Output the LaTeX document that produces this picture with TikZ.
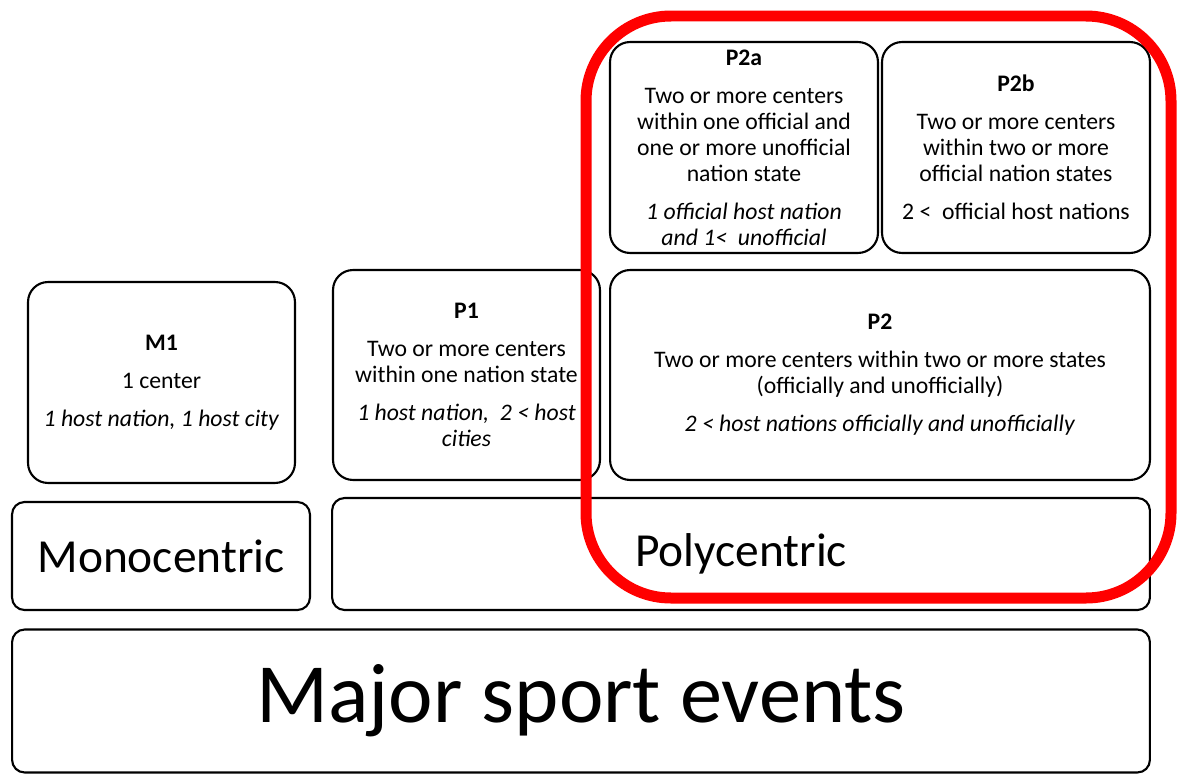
\documentclass[tikz,border=0pt]{standalone}
\usepackage{fontspec}
\setmainfont{Carlito}
\usepackage{tikz}

\begin{document}
\begin{tikzpicture}[x=0.02cm,y=-0.02cm,
	box/.style={draw=black,line width=1.2pt,rounded corners=0.4cm,align=center,inner sep=0pt,
		font=\fontsize{13.5}{14.8}\selectfont},
	bigbox/.style={draw=black,line width=1.2pt,rounded corners=0.25cm,inner sep=0pt}]
	\useasboundingbox (0,0) rectangle (1177,774);
	% bottom rows
	\node[bigbox,minimum width=22.76cm,minimum height=2.86cm,font=\fontsize{48}{50}\selectfont] (mse) at (581,701) {Major sport events};
	\node[bigbox,minimum width=5.96cm,minimum height=2.16cm,font=\fontsize{27}{30}\selectfont] (mono) at (161,556) {Monocentric};
	\node[bigbox,minimum width=16.36cm,minimum height=2.24cm,font=\fontsize{27}{30}\selectfont] (poly) at (741,554) {Polycentric};
	% types
	\node[box,minimum width=5.34cm,minimum height=4.02cm] (m1) at (161.5,382.5)
		{\textbf{M1}\\[0.24cm] 1 center\\[0.24cm] \textit{1 host nation, 1 host city}};
	\node[box,minimum width=5.34cm,minimum height=4.2cm] (p1) at (466.5,375)
		{\textbf{P1}\\[0.24cm] Two or more centers\\ within one nation state\\[0.24cm] \textit{1 host nation,\ \ 2 < host}\\ \textit{cities}};
	\node[box,minimum width=10.8cm,minimum height=4.2cm] (p2) at (880,375)
		{\textbf{P2}\\[0.24cm] Two or more centers within two or more states\\ (officially and unofficially)\\[0.24cm] \textit{2 < host nations officially and unofficially}};
	\node[box,minimum width=5.36cm,minimum height=4.22cm] (p2a) at (744,147.5)
		{\textbf{P2a}\\[0.24cm] Two or more centers\\ within one official and\\ one or more unofficial\\ nation state\\[0.24cm] \textit{1 official host nation}\\ \textit{and 1<\ \ unofficial}};
	\node[box,minimum width=5.36cm,minimum height=4.22cm] (p2b) at (1016,147.5)
		{\textbf{P2b}\\[0.24cm] Two or more centers\\ within two or more\\ official nation states\\[0.24cm] 2 <\ \ official host nations};
	% highlight round the P2 group
	\draw[red,line width=0.22cm,rounded corners=1.7cm] (586,16) rectangle (1171,598);
\end{tikzpicture}
\end{document}
